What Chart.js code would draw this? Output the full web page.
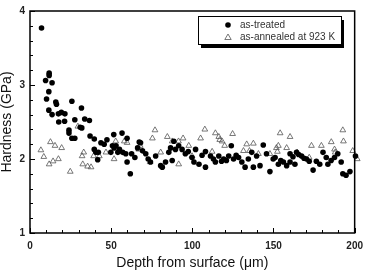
<!DOCTYPE html>
<html>
<head>
<meta charset="utf-8">
<script src="https://cdn.jsdelivr.net/npm/chart.js@4"></script>
<style>
  html, body { margin: 0; padding: 0; background: #fff; }
</style>
</head>
<body>
<canvas id="hardnessChart" width="370" height="270"></canvas>
<script>
// as-treated (filled circles)
const treatedDepth = [
  7.1, 9.6, 10.2, 11.6, 11.6, 11.8, 11.8, 13.6, 13.6, 15.9,
  16.3, 17.5, 17.7, 19.3, 21.3, 21.5, 24.0, 24.0, 25.8, 25.8,
  27.6, 27.6, 30.9, 31.7, 31.9, 33.7, 36.6, 37.0, 39.6, 39.6,
  40.6, 41.7, 42.1, 43.7, 45.7, 47.4, 49.8, 50.8, 51.6, 51.8,
  53.0, 54.1, 55.1, 56.7, 57.1, 59.0, 59.8, 59.8, 61.8, 62.6,
  64.6, 66.3, 67.3, 68.1, 69.3, 71.3, 72.8, 74.2, 77.4, 80.5,
  81.5, 83.5, 85.5, 86.6, 87.6, 88.6, 89.6, 91.6, 93.7, 95.7,
  97.5, 99.8, 101, 102, 104.1, 106, 108.1, 108.1, 111.2, 113,
  114.2, 116.3, 118, 119.3, 121, 122.4, 124, 125.4, 127, 128.5,
  130.5, 132.5, 134.5, 136.6, 137.6, 139.6, 141.7, 143.7, 145.7, 147.8,
  149.8, 151, 153, 154.5, 156.1, 158.1, 160.2, 160.2, 162, 163.2,
  164.2, 165.5, 167.3, 168.8, 170.3, 172, 174.4, 176.4, 178.5, 180.5,
  182.5, 183.5, 185.5, 187.6, 189.6, 191.7, 192.7, 194.7, 197.1, 200.5
];
const treatedHardness = [
  3.77, 3.06, 2.81, 2.66, 2.91, 3.13, 3.16, 3.03, 2.60, 2.77,
  2.74, 2.61, 2.50, 2.63, 2.51, 2.61, 2.39, 2.35, 2.78, 2.28,
  2.53, 2.28, 2.43, 2.69, 2.42, 2.54, 2.52, 2.31, 2.27, 2.13,
  2.09, 1.99, 2.09, 2.22, 2.20, 2.26, 2.09, 2.18, 2.33, 2.15,
  2.18, 2.09, 2.13, 2.35, 2.09, 2.07, 2.28, 1.96, 1.80, 2.07,
  2.02, 2.15, 2.23, 2.22, 2.11, 2.07, 2.00, 1.96, 2.04, 1.91,
  1.89, 1.96, 2.09, 2.15, 1.98, 2.24, 2.13, 2.18, 2.13, 2.07,
  2.10, 2.02, 1.96, 2.13, 1.93, 2.05, 2.10, 1.89, 2.04, 2.00,
  1.96, 2.04, 1.97, 2.00, 1.98, 2.04, 2.18, 2.00, 2.05, 2.02,
  1.96, 1.89, 2.00, 2.09, 1.89, 2.04, 1.91, 2.19, 2.07, 1.83,
  2.00, 2.02, 1.93, 1.98, 1.96, 1.91, 1.96, 2.07, 2.03, 1.93,
  2.09, 2.06, 2.04, 2.01, 2.00, 1.97, 1.85, 1.97, 1.93, 2.09,
  2.02, 1.93, 1.98, 2.02, 2.07, 1.96, 1.80, 1.78, 1.83, 2.04
];

// as-annealed at 923 K (open triangles)
const annealedDepth = [
  6.7, 8.5, 11.8, 12.6, 14.2, 15.4, 17.5, 19.5, 24.8, 29.5,
  32.1, 32.5, 33.1, 35.5, 37.6, 39.2, 42.7, 46.8, 51.8, 52.8,
  58.1, 59.8, 67.0, 67.9, 74.0, 75.4, 77.0, 80.5, 84.6, 87.6,
  91.5, 91.6, 94.3, 97.8, 99.8, 105.1, 107.7, 112.2, 114.2, 116.3,
  116.9, 118.3, 119.9, 124.8, 131.5, 133.5, 135.2, 137.6, 140.7, 147.8,
  151.8, 152.4, 153.0, 154.1, 158.1, 160.2, 164.6, 172.0, 173.4, 179.5,
  185.6, 187.6, 188.0, 192.7, 193.1, 198.8, 201.6
];
const annealedHardness = [
  2.12, 2.03, 1.93, 2.23, 1.97, 2.18, 2.00, 2.15, 1.83, 2.44,
  2.04, 1.93, 2.09, 1.90, 1.89, 2.04, 2.04, 2.09, 2.00, 2.24,
  2.24, 2.22, 2.13, 2.18, 1.96, 2.28, 2.39, 2.09, 2.30, 2.24,
  2.24, 1.93, 2.28, 2.18, 2.04, 2.28, 2.40, 2.10, 2.35, 2.30,
  2.26, 2.24, 2.18, 2.34, 2.11, 2.20, 2.11, 2.21, 2.07, 2.07,
  2.15, 2.10, 2.18, 2.35, 2.15, 2.30, 2.09, 2.02, 2.18, 2.18,
  2.23, 2.13, 2.09, 2.39, 2.24, 2.11, 2.00
];

const seriesLabels = ['as-treated', 'as-annealed at 923 K'];
const xTicks = [0, 50, 100, 150, 200];
const yTicks = [1, 2, 3, 4];

const toPoints = (xs, ys) => xs.map((x, i) => ({ x: x, y: ys[i] }));

// frame + inward ticks (major and minor)
const frameTicks = {
  id: 'frameTicks',
  afterDatasetsDraw(chart) {
    const { ctx, chartArea: a, scales } = chart;
    const x = scales.x, y = scales.y;
    ctx.save();
    ctx.strokeStyle = '#000';
    ctx.lineWidth = 1;
    ctx.beginPath();
    for (let v = 0; v <= 200; v += 10) {
      const px = Math.round(x.getPixelForValue(v)) + 0.5;
      const len = v % 50 === 0 ? 5 : 3;
      ctx.moveTo(px, a.bottom);
      ctx.lineTo(px, a.bottom - len);
    }
    for (let i = 0; i <= 15; i++) {
      const py = Math.round(y.getPixelForValue(1 + i * 0.2)) + 0.5;
      const len = i % 5 === 0 ? 5 : 3;
      ctx.moveTo(a.left, py);
      ctx.lineTo(a.left + len, py);
    }
    ctx.stroke();
    ctx.lineWidth = 1.5;
    ctx.strokeRect(a.left, a.top, a.right - a.left, a.bottom - a.top);
    ctx.restore();
  }
};

// boxed legend with drop shadow
const boxLegend = {
  id: 'boxLegend',
  afterDraw(chart) {
    const ctx = chart.ctx;
    const bx = 198, by = 16, bw = 143, bh = 28;
    ctx.save();
    ctx.fillStyle = '#000';
    ctx.fillRect(bx + 3, by + 4, bw, bh);
    ctx.fillStyle = '#fff';
    ctx.fillRect(bx, by, bw, bh);
    ctx.strokeStyle = '#000';
    ctx.lineWidth = 1;
    ctx.strokeRect(bx + 0.5, by + 0.5, bw, bh);

    ctx.fillStyle = '#000';
    ctx.beginPath();
    ctx.arc(228, 25, 2.8, 0, Math.PI * 2);
    ctx.fill();

    ctx.strokeStyle = '#555';
    ctx.lineWidth = 0.8;
    ctx.beginPath();
    ctx.moveTo(228, 34);
    ctx.lineTo(231.2, 39.5);
    ctx.lineTo(224.8, 39.5);
    ctx.closePath();
    ctx.stroke();

    ctx.fillStyle = '#333';
    ctx.font = '10px "Liberation Sans", Arial, sans-serif';
    ctx.textBaseline = 'middle';
    ctx.fillText(chart.data.datasets[0].label, 240, 25);
    ctx.fillText(chart.data.datasets[1].label, 240, 37.5);
    ctx.restore();
  }
};

new Chart(document.getElementById('hardnessChart'), {
  type: 'scatter',
  data: {
    datasets: [{
      label: seriesLabels[0],
      data: toPoints(treatedDepth, treatedHardness),
      pointStyle: 'circle',
      pointRadius: 2.8,
      backgroundColor: '#000',
      borderColor: '#000',
      borderWidth: 0,
      clip: false
    }, {
      label: seriesLabels[1],
      data: toPoints(annealedDepth, annealedHardness),
      pointStyle: 'triangle',
      pointRadius: 3.3,
      backgroundColor: 'rgba(255,255,255,0)',
      borderColor: '#555',
      borderWidth: 0.8,
      clip: false
    }]
  },
  options: {
    responsive: false,
    animation: false,
    devicePixelRatio: 1,
    layout: { padding: { top: 4, right: 12, left: 0, bottom: 0 } },
    plugins: {
      legend: { display: false },
      tooltip: { enabled: false }
    },
    scales: {
      x: {
        type: 'linear',
        min: 0,
        max: 200,
        afterFit: (s) => { s.height = 37; },
        afterBuildTicks: (s) => { s.ticks = xTicks.map(v => ({ value: v })); },
        grid: { display: false, drawTicks: false },
        border: { display: false },
        ticks: {
          padding: 7,
          color: '#222',
          font: { family: '"Liberation Sans", Arial, sans-serif', size: 10, weight: 'bold' }
        },
        title: {
          display: true,
          text: 'Depth from surface (μm)',
          color: '#111',
          padding: 0,
          font: { family: '"Liberation Sans", Arial, sans-serif', size: 14, lineHeight: 1 }
        }
      },
      y: {
        type: 'linear',
        min: 1,
        max: 4,
        afterFit: (s) => { s.width = 30; },
        afterBuildTicks: (s) => { s.ticks = yTicks.map(v => ({ value: v })); },
        grid: { display: false, drawTicks: false },
        border: { display: false },
        ticks: {
          padding: 5,
          color: '#222',
          font: { family: '"Liberation Sans", Arial, sans-serif', size: 10, weight: 'bold' }
        },
        title: {
          display: true,
          text: 'Hardness (GPa)',
          color: '#111',
          padding: 0,
          font: { family: '"Liberation Sans", Arial, sans-serif', size: 14, lineHeight: 1 }
        }
      }
    }
  },
  plugins: [frameTicks, boxLegend]
});
</script>
</body>
</html>
